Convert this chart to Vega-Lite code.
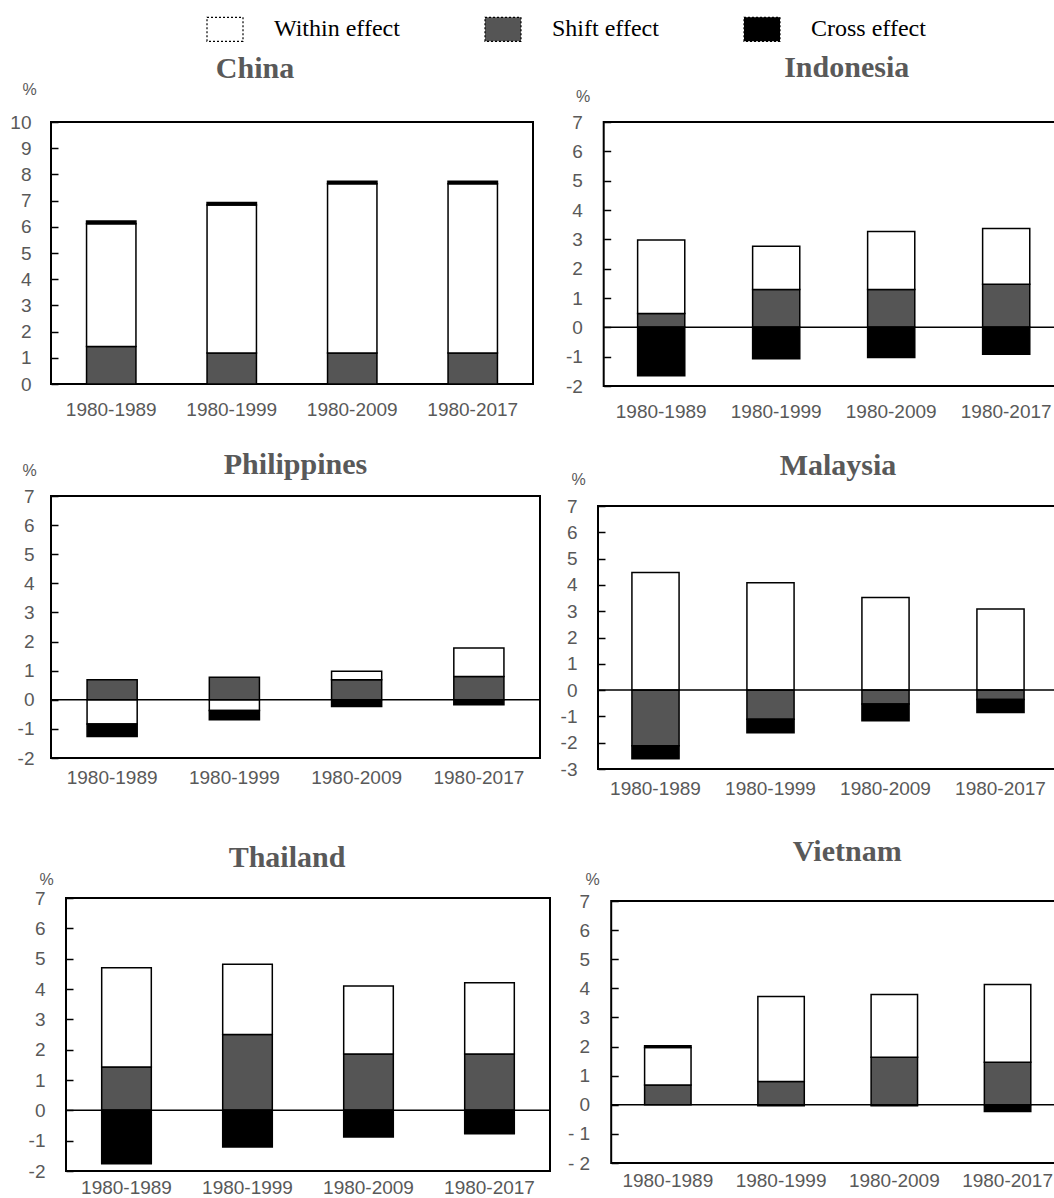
{
  "$schema": "https://vega.github.io/schema/vega-lite/v6.json",
  "autosize": {"type": "none"},
  "padding": {"left": 51, "top": 122, "right": 1003, "bottom": 1076},
  "background": "white",
  "datasets": {
    "d": [
      {"c": "China", "p": "1980-1989", "e": "Shift effect", "v": 1.43, "o": 1},
      {"c": "China", "p": "1980-1989", "e": "Within effect", "v": 4.69, "o": 2},
      {"c": "China", "p": "1980-1989", "e": "Cross effect", "v": 0.10, "o": 3},
      {"c": "China", "p": "1980-1999", "e": "Shift effect", "v": 1.18, "o": 1},
      {"c": "China", "p": "1980-1999", "e": "Within effect", "v": 5.65, "o": 2},
      {"c": "China", "p": "1980-1999", "e": "Cross effect", "v": 0.10, "o": 3},
      {"c": "China", "p": "1980-2009", "e": "Shift effect", "v": 1.18, "o": 1},
      {"c": "China", "p": "1980-2009", "e": "Within effect", "v": 6.46, "o": 2},
      {"c": "China", "p": "1980-2009", "e": "Cross effect", "v": 0.10, "o": 3},
      {"c": "China", "p": "1980-2017", "e": "Shift effect", "v": 1.18, "o": 1},
      {"c": "China", "p": "1980-2017", "e": "Within effect", "v": 6.46, "o": 2},
      {"c": "China", "p": "1980-2017", "e": "Cross effect", "v": 0.10, "o": 3},

      {"c": "Indonesia", "p": "1980-1989", "e": "Shift effect", "v": 0.47, "o": 1},
      {"c": "Indonesia", "p": "1980-1989", "e": "Within effect", "v": 2.51, "o": 2},
      {"c": "Indonesia", "p": "1980-1989", "e": "Cross effect", "v": -1.65, "o": 3},
      {"c": "Indonesia", "p": "1980-1999", "e": "Shift effect", "v": 1.29, "o": 1},
      {"c": "Indonesia", "p": "1980-1999", "e": "Within effect", "v": 1.47, "o": 2},
      {"c": "Indonesia", "p": "1980-1999", "e": "Cross effect", "v": -1.07, "o": 3},
      {"c": "Indonesia", "p": "1980-2009", "e": "Shift effect", "v": 1.29, "o": 1},
      {"c": "Indonesia", "p": "1980-2009", "e": "Within effect", "v": 1.98, "o": 2},
      {"c": "Indonesia", "p": "1980-2009", "e": "Cross effect", "v": -1.03, "o": 3},
      {"c": "Indonesia", "p": "1980-2017", "e": "Shift effect", "v": 1.47, "o": 1},
      {"c": "Indonesia", "p": "1980-2017", "e": "Within effect", "v": 1.90, "o": 2},
      {"c": "Indonesia", "p": "1980-2017", "e": "Cross effect", "v": -0.92, "o": 3},

      {"c": "Philippines", "p": "1980-1989", "e": "Shift effect", "v": 0.69, "o": 1},
      {"c": "Philippines", "p": "1980-1989", "e": "Within effect", "v": -0.83, "o": 2},
      {"c": "Philippines", "p": "1980-1989", "e": "Cross effect", "v": -0.43, "o": 3},
      {"c": "Philippines", "p": "1980-1999", "e": "Shift effect", "v": 0.77, "o": 1},
      {"c": "Philippines", "p": "1980-1999", "e": "Within effect", "v": -0.37, "o": 2},
      {"c": "Philippines", "p": "1980-1999", "e": "Cross effect", "v": -0.32, "o": 3},
      {"c": "Philippines", "p": "1980-2009", "e": "Shift effect", "v": 0.69, "o": 1},
      {"c": "Philippines", "p": "1980-2009", "e": "Within effect", "v": 0.29, "o": 2},
      {"c": "Philippines", "p": "1980-2009", "e": "Cross effect", "v": -0.23, "o": 3},
      {"c": "Philippines", "p": "1980-2017", "e": "Shift effect", "v": 0.80, "o": 1},
      {"c": "Philippines", "p": "1980-2017", "e": "Within effect", "v": 0.98, "o": 2},
      {"c": "Philippines", "p": "1980-2017", "e": "Cross effect", "v": -0.17, "o": 3},

      {"c": "Malaysia", "p": "1980-1989", "e": "Shift effect", "v": -2.12, "o": 1},
      {"c": "Malaysia", "p": "1980-1989", "e": "Within effect", "v": 4.47, "o": 2},
      {"c": "Malaysia", "p": "1980-1989", "e": "Cross effect", "v": -0.49, "o": 3},
      {"c": "Malaysia", "p": "1980-1999", "e": "Shift effect", "v": -1.11, "o": 1},
      {"c": "Malaysia", "p": "1980-1999", "e": "Within effect", "v": 4.08, "o": 2},
      {"c": "Malaysia", "p": "1980-1999", "e": "Cross effect", "v": -0.51, "o": 3},
      {"c": "Malaysia", "p": "1980-2009", "e": "Shift effect", "v": -0.53, "o": 1},
      {"c": "Malaysia", "p": "1980-2009", "e": "Within effect", "v": 3.52, "o": 2},
      {"c": "Malaysia", "p": "1980-2009", "e": "Cross effect", "v": -0.64, "o": 3},
      {"c": "Malaysia", "p": "1980-2017", "e": "Shift effect", "v": -0.36, "o": 1},
      {"c": "Malaysia", "p": "1980-2017", "e": "Within effect", "v": 3.08, "o": 2},
      {"c": "Malaysia", "p": "1980-2017", "e": "Cross effect", "v": -0.49, "o": 3},

      {"c": "Thailand", "p": "1980-1989", "e": "Shift effect", "v": 1.43, "o": 1},
      {"c": "Thailand", "p": "1980-1989", "e": "Within effect", "v": 3.27, "o": 2},
      {"c": "Thailand", "p": "1980-1989", "e": "Cross effect", "v": -1.76, "o": 3},
      {"c": "Thailand", "p": "1980-1999", "e": "Shift effect", "v": 2.50, "o": 1},
      {"c": "Thailand", "p": "1980-1999", "e": "Within effect", "v": 2.32, "o": 2},
      {"c": "Thailand", "p": "1980-1999", "e": "Cross effect", "v": -1.21, "o": 3},
      {"c": "Thailand", "p": "1980-2009", "e": "Shift effect", "v": 1.86, "o": 1},
      {"c": "Thailand", "p": "1980-2009", "e": "Within effect", "v": 2.24, "o": 2},
      {"c": "Thailand", "p": "1980-2009", "e": "Cross effect", "v": -0.88, "o": 3},
      {"c": "Thailand", "p": "1980-2017", "e": "Shift effect", "v": 1.86, "o": 1},
      {"c": "Thailand", "p": "1980-2017", "e": "Within effect", "v": 2.35, "o": 2},
      {"c": "Thailand", "p": "1980-2017", "e": "Cross effect", "v": -0.77, "o": 3},

      {"c": "Vietnam", "p": "1980-1989", "e": "Shift effect", "v": 0.68, "o": 1},
      {"c": "Vietnam", "p": "1980-1989", "e": "Within effect", "v": 1.29, "o": 2},
      {"c": "Vietnam", "p": "1980-1989", "e": "Cross effect", "v": 0.06, "o": 3},
      {"c": "Vietnam", "p": "1980-1999", "e": "Shift effect", "v": 0.80, "o": 1},
      {"c": "Vietnam", "p": "1980-1999", "e": "Within effect", "v": 2.92, "o": 2},
      {"c": "Vietnam", "p": "1980-1999", "e": "Cross effect", "v": -0.03, "o": 3},
      {"c": "Vietnam", "p": "1980-2009", "e": "Shift effect", "v": 1.63, "o": 1},
      {"c": "Vietnam", "p": "1980-2009", "e": "Within effect", "v": 2.16, "o": 2},
      {"c": "Vietnam", "p": "1980-2009", "e": "Cross effect", "v": -0.03, "o": 3},
      {"c": "Vietnam", "p": "1980-2017", "e": "Shift effect", "v": 1.46, "o": 1},
      {"c": "Vietnam", "p": "1980-2017", "e": "Within effect", "v": 2.67, "o": 2},
      {"c": "Vietnam", "p": "1980-2017", "e": "Cross effect", "v": -0.23, "o": 3}
    ]
  },
  "config": {
    "view": {"stroke": "#000", "strokeWidth": 2},
    "font": "Liberation Sans",
    "axis": {
      "labelFont": "Liberation Sans", "labelFontSize": 19, "labelColor": "#595959",
      "grid": false, "domain": false, "labelOverlap": false,
      "titleFont": "Liberation Sans", "titleFontSize": 16, "titleFontWeight": "normal", "titleColor": "#595959"
    },
    "axisX": {"ticks": false, "labelAngle": 0},
    "axisY": {"tickSize": -7, "tickColor": "#000", "tickWidth": 1.5, "titleAngle": 0, "titleAlign": "center", "titleBaseline": "middle", "labelOverlap": false},
    "title": {"font": "Liberation Serif", "fontSize": 30, "fontWeight": "bold", "color": "#595959", "frame": "group", "anchor": "middle", "baseline": "alphabetic"},
    "legend": {
      "labelFont": "Liberation Serif", "labelFontSize": 24, "labelColor": "#000",
      "padding": 0, "labelOffset": 30, "columnPadding": 82,
      "symbolStrokeColor": "#000", "symbolStrokeWidth": 1.2, "symbolDash": [2, 2]
    }
  },
  "hconcat": [
    {
      "vconcat": [
        {
          "width": 482, "height": 262,
          "title": {"text": "China", "dx": -37, "offset": -2.8},
          "data": {"name": "d"},
          "transform": [{"filter": "datum.c === 'China'"}],
          "mark": {"type": "bar", "stroke": "#000", "strokeWidth": 1.5},
          "encoding": {
            "x": {"field": "p", "type": "nominal", "title": null, "scale": {"paddingInner": 0.59, "paddingOuter": 0.295}, "axis": {"labelPadding": 16}},
            "y": {"field": "v", "type": "quantitative", "stack": "zero", "scale": {"domain": [0, 10], "nice": false, "zero": false},
                  "axis": {"title": "%", "values": [0, 1, 2, 3, 4, 5, 6, 7, 8, 9, 10], "labelOverlap": false, "titleX": -22, "titleY": -32.5, "labelPadding": 27}},
            "color": {"field": "e", "type": "nominal",
                      "scale": {"domain": ["Within effect", "Shift effect", "Cross effect"], "range": ["#ffffff", "#555555", "#000000"]},
                      "legend": {"title": null, "orient": "none", "legendX": 155, "legendY": -112, "direction": "horizontal", "columns": 3, "symbolType": "M-1,-0.667H1V0.667H-1Z", "symbolSize": 1296}},
            "order": {"field": "o", "type": "quantitative"}
          }
        },
        {
          "vconcat": [
            {
              "width": 489, "height": 262,
              "title": {"text": "Philippines", "dx": 0, "offset": -18.3},
              "layer": [
                {
                  "data": {"name": "d"},
                  "transform": [{"filter": "datum.c === 'Philippines'"}],
                  "mark": {"type": "bar", "stroke": "#000", "strokeWidth": 1.5},
                  "encoding": {
                    "x": {"field": "p", "type": "nominal", "title": null, "scale": {"paddingInner": 0.59, "paddingOuter": 0.295}, "axis": {"labelPadding": 10}},
                    "y": {"field": "v", "type": "quantitative", "stack": "zero", "scale": {"domain": [-2, 7], "nice": false, "zero": false},
                          "axis": {"title": "%", "values": [-2, -1, 0, 1, 2, 3, 4, 5, 6, 7], "labelOverlap": false, "titleX": -22, "titleY": -26, "labelPadding": 24,
                                   "labelExpr": "datum.value < 0 ? '-' + abs(datum.value) : datum.label"}},
                    "color": {"field": "e", "type": "nominal",
                              "scale": {"domain": ["Within effect", "Shift effect", "Cross effect"], "range": ["#ffffff", "#555555", "#000000"]},
                              "legend": {"title": null, "orient": "none", "legendX": 155, "legendY": -112, "direction": "horizontal", "columns": 3, "symbolType": "M-1,-0.667H1V0.667H-1Z", "symbolSize": 1296}},
                    "order": {"field": "o", "type": "quantitative"}
                  }
                },
                {
                  "data": {"values": [{}]},
                  "mark": {"type": "rule", "stroke": "#000", "strokeWidth": 1.5},
                  "encoding": {"y": {"datum": 0, "type": "quantitative", "axis": {"title": "%", "values": [-2, -1, 0, 1, 2, 3, 4, 5, 6, 7], "labelOverlap": false}}}
                }
              ]
            },
            {
              "hconcat": [
                {"width": 1, "height": 1, "view": {"stroke": null}, "data": {"values": []}, "mark": "point"},
                {
                  "width": 484, "height": 273,
                  "title": {"text": "Thailand", "dx": -21, "offset": -2.3},
                  "layer": [
                    {
                      "data": {"name": "d"},
                      "transform": [{"filter": "datum.c === 'Thailand'"}],
                      "mark": {"type": "bar", "stroke": "#000", "strokeWidth": 1.5},
                      "encoding": {
                        "x": {"field": "p", "type": "nominal", "title": null, "scale": {"paddingInner": 0.59, "paddingOuter": 0.295}, "axis": {"labelPadding": 7}},
                        "y": {"field": "v", "type": "quantitative", "stack": "zero", "scale": {"domain": [-2, 7], "nice": false, "zero": false},
                              "axis": {"title": "%", "values": [-2, -1, 0, 1, 2, 3, 4, 5, 6, 7], "labelOverlap": false, "titleX": -20, "titleY": -19, "labelPadding": 28,
                                       "labelExpr": "datum.value < 0 ? '-' + abs(datum.value) : datum.label"}},
                        "color": {"field": "e", "type": "nominal",
                                  "scale": {"domain": ["Within effect", "Shift effect", "Cross effect"], "range": ["#ffffff", "#555555", "#000000"]},
                                  "legend": {"title": null, "orient": "none", "legendX": 155, "legendY": -112, "direction": "horizontal", "columns": 3, "symbolType": "M-1,-0.667H1V0.667H-1Z", "symbolSize": 1296}},
                        "order": {"field": "o", "type": "quantitative"}
                      }
                    },
                    {
                      "data": {"values": [{}]},
                      "mark": {"type": "rule", "stroke": "#000", "strokeWidth": 1.5},
                      "encoding": {"y": {"datum": 0, "type": "quantitative", "axis": {"title": "%", "values": [-2, -1, 0, 1, 2, 3, 4, 5, 6, 7], "labelOverlap": false}}}
                    }
                  ]
                }
              ],
              "spacing": -25
            }
          ],
          "spacing": 54
        }
      ],
      "spacing": 29
    },
    {
      "vconcat": [
        {
          "hconcat": [
            {"width": 1, "height": 1, "view": {"stroke": null}, "data": {"values": []}, "mark": "point"},
            {
              "width": 460, "height": 264,
              "title": {"text": "Indonesia", "dx": 13, "offset": 5.2},
              "layer": [
                {
                  "data": {"name": "d"},
                  "transform": [{"filter": "datum.c === 'Indonesia'"}],
                  "mark": {"type": "bar", "stroke": "#000", "strokeWidth": 1.5},
                  "encoding": {
                    "x": {"field": "p", "type": "nominal", "title": null, "scale": {"paddingInner": 0.59, "paddingOuter": 0.295}, "axis": {"labelPadding": 16}},
                    "y": {"field": "v", "type": "quantitative", "stack": "zero", "scale": {"domain": [-2, 7], "nice": false, "zero": false},
                          "axis": {"title": "%", "values": [-2, -1, 0, 1, 2, 3, 4, 5, 6, 7], "labelOverlap": false, "titleX": -21, "titleY": -25.5, "labelPadding": 28.4,
                                   "labelExpr": "datum.value < 0 ? '-' + abs(datum.value) : datum.label"}},
                    "color": {"field": "e", "type": "nominal",
                              "scale": {"domain": ["Within effect", "Shift effect", "Cross effect"], "range": ["#ffffff", "#555555", "#000000"]},
                              "legend": {"title": null, "orient": "none", "legendX": 155, "legendY": -112, "direction": "horizontal", "columns": 3, "symbolType": "M-1,-0.667H1V0.667H-1Z", "symbolSize": 1296}},
                    "order": {"field": "o", "type": "quantitative"}
                  }
                },
                {
                  "data": {"values": [{}]},
                  "mark": {"type": "rule", "stroke": "#000", "strokeWidth": 1.5},
                  "encoding": {"y": {"datum": 0, "type": "quantitative", "axis": {"title": "%", "values": [-2, -1, 0, 1, 2, 3, 4, 5, 6, 7], "labelOverlap": false}}}
                }
              ]
            }
          ],
          "spacing": -35.3
        },
        {
          "vconcat": [
            {
              "width": 460, "height": 263,
              "title": {"text": "Malaysia", "dx": 10, "offset": -10.3},
              "layer": [
                {
                  "data": {"name": "d"},
                  "transform": [{"filter": "datum.c === 'Malaysia'"}],
                  "mark": {"type": "bar", "stroke": "#000", "strokeWidth": 1.5},
                  "encoding": {
                    "x": {"field": "p", "type": "nominal", "title": null, "scale": {"paddingInner": 0.59, "paddingOuter": 0.295}, "axis": {"labelPadding": 10}},
                    "y": {"field": "v", "type": "quantitative", "stack": "zero", "scale": {"domain": [-3, 7], "nice": false, "zero": false},
                          "axis": {"title": "%", "values": [-3, -2, -1, 0, 1, 2, 3, 4, 5, 6, 7], "labelOverlap": false, "titleX": -20, "titleY": -27, "labelPadding": 28,
                                   "labelExpr": "datum.value < 0 ? '-' + abs(datum.value) : datum.label"}},
                    "color": {"field": "e", "type": "nominal",
                              "scale": {"domain": ["Within effect", "Shift effect", "Cross effect"], "range": ["#ffffff", "#555555", "#000000"]},
                              "legend": {"title": null, "orient": "none", "legendX": 155, "legendY": -112, "direction": "horizontal", "columns": 3, "symbolType": "M-1,-0.667H1V0.667H-1Z", "symbolSize": 1296}},
                    "order": {"field": "o", "type": "quantitative"}
                  }
                },
                {
                  "data": {"values": [{}]},
                  "mark": {"type": "rule", "stroke": "#000", "strokeWidth": 1.5},
                  "encoding": {"y": {"datum": 0, "type": "quantitative", "axis": {"title": "%", "values": [-3, -2, -1, 0, 1, 2, 3, 4, 5, 6, 7], "labelOverlap": false}}}
                }
              ]
            },
            {
              "hconcat": [
                {"width": 1, "height": 1, "view": {"stroke": null}, "data": {"values": []}, "mark": "point"},
                {
                  "width": 453, "height": 262,
                  "title": {"text": "Vietnam", "dx": 9.5, "offset": 3.7},
                  "layer": [
                    {
                      "data": {"name": "d"},
                      "transform": [{"filter": "datum.c === 'Vietnam'"}],
                      "mark": {"type": "bar", "stroke": "#000", "strokeWidth": 1.5},
                      "encoding": {
                        "x": {"field": "p", "type": "nominal", "title": null, "scale": {"paddingInner": 0.59, "paddingOuter": 0.295}, "axis": {"labelPadding": 8}},
                        "y": {"field": "v", "type": "quantitative", "stack": "zero", "scale": {"domain": [-2, 7], "nice": false, "zero": false},
                              "axis": {"title": "%", "values": [-2, -1, 0, 1, 2, 3, 4, 5, 6, 7], "labelOverlap": false, "titleX": -19, "titleY": -22, "labelPadding": 28.6,
                                       "labelExpr": "datum.value < 0 ? '- ' + abs(datum.value) : datum.label"}},
                        "color": {"field": "e", "type": "nominal",
                                  "scale": {"domain": ["Within effect", "Shift effect", "Cross effect"], "range": ["#ffffff", "#555555", "#000000"]},
                                  "legend": {"title": null, "orient": "none", "legendX": 155, "legendY": -112, "direction": "horizontal", "columns": 3, "symbolType": "M-1,-0.667H1V0.667H-1Z", "symbolSize": 1296}},
                        "order": {"field": "o", "type": "quantitative"}
                      }
                    },
                    {
                      "data": {"values": [{}]},
                      "mark": {"type": "rule", "stroke": "#000", "strokeWidth": 1.5},
                      "encoding": {"y": {"datum": 0, "type": "quantitative", "axis": {"title": "%", "values": [-2, -1, 0, 1, 2, 3, 4, 5, 6, 7], "labelOverlap": false}}}
                    }
                  ]
                }
              ],
              "spacing": -32.8
            }
          ],
          "spacing": 37
        }
      ],
      "spacing": 28
    }
  ],
  "spacing": 7
}
